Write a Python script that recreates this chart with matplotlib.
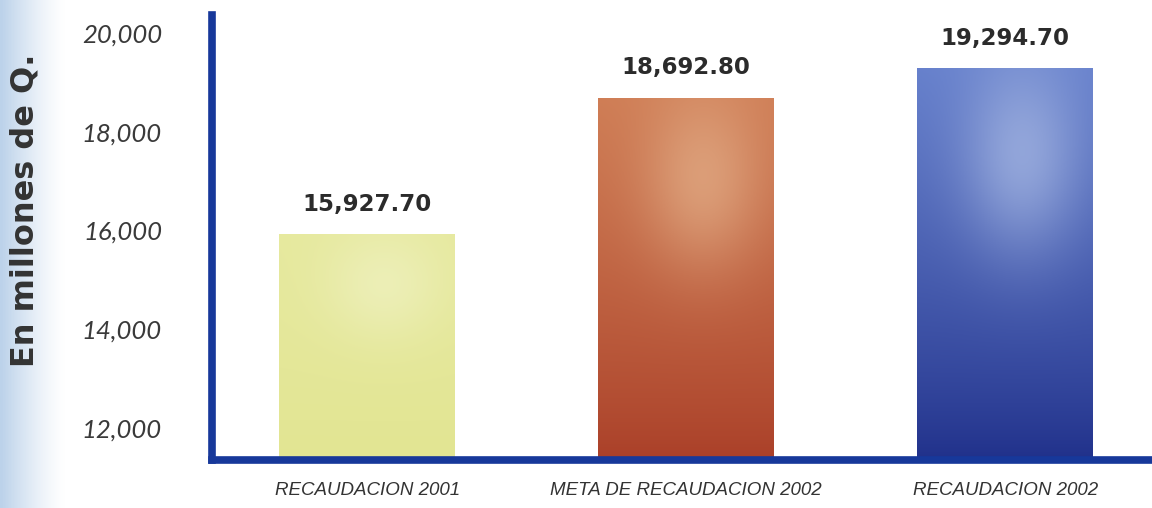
import numpy as np
import matplotlib
matplotlib.use('Agg')
from matplotlib import pyplot as plt
from matplotlib import colors

categories = ['RECAUDACION 2001', 'META DE RECAUDACION 2002', 'RECAUDACION 2002']
values = [15927.70, 18692.80, 19294.70]
value_labels = ['15,927.70', '18,692.80', '19,294.70']
yticks = [12000, 14000, 16000, 18000, 20000]
ytick_labels = ['12,000', '14,000', '16,000', '18,000', '20,000']

# bottom colour, top colour, highlight colour per bar
bar_shades = [
    ('#e2e592', '#e6e99e', '#eef0bc'),
    ('#aa3f28', '#cf7d55', '#e0a882'),
    ('#20308a', '#6680cc', '#a0b2e0'),
]
axis_blue = '#17389a'

ymin, ymax = 11350, 20365

fig = plt.figure(figsize=(11.52, 5.08), dpi=100)

# pale blue haze down the left edge
bg = fig.add_axes([0, 0, 1, 1], zorder=-5)
bg.axis('off')
xs = np.linspace(0, 1, 400)
fade = np.clip(1 - xs / 0.055, 0, 1) ** 1.3
haze = np.ones((1, 400, 3))
edge = np.array(colors.to_rgb('#bcd2ea'))
haze[0] = 1 - fade[:, None] * (1 - edge)
bg.imshow(haze, extent=[0, 1, 0, 1], aspect='auto')
bg.set_xlim(0, 1)
bg.set_ylim(0, 1)

ax = fig.add_axes([212 / 1152, 48 / 508, 1 - 212 / 1152, (508 - 48 - 15) / 508])
ax.patch.set_alpha(0)

x = np.arange(len(categories))
bars = ax.bar(x, [v - ymin for v in values], bottom=ymin, width=0.55,
              color='none', edgecolor='none', zorder=2)

# fill each bar with a vertical gradient and a soft highlight
ny, nx = 200, 60
gy, gx = np.mgrid[0:1:ny * 1j, 0:1:nx * 1j]
for rect, (c_bot, c_top, c_hi) in zip(bars, bar_shades):
    bot = np.array(colors.to_rgb(c_bot))
    top = np.array(colors.to_rgb(c_top))
    hi = np.array(colors.to_rgb(c_hi))
    t = (gy ** 0.8)[..., None]
    img = bot * (1 - t) + top * t
    glow = np.exp(-(((gx - 0.6) / 0.35) ** 2 + ((gy - 0.78) / 0.25) ** 2))[..., None]
    img = img * (1 - 0.8 * glow) + hi * 0.8 * glow
    x0, y0 = rect.get_x(), rect.get_y()
    im = ax.imshow(img, origin='lower', aspect='auto', zorder=2,
                   extent=[x0, x0 + rect.get_width(), y0, y0 + rect.get_height()])
    im.set_clip_path(rect)

for xi, v, lab in zip(x, values, value_labels):
    ax.annotate(lab, (xi, v), xytext=(0, 13), textcoords='offset points',
                ha='center', va='bottom', fontsize=16.5, fontweight='bold',
                color='#2b2b2b', family='DejaVu Sans')

ax.set_xlim(-0.486, 2.46)
ax.set_ylim(ymin, ymax)

for side in ['top', 'right']:
    ax.spines[side].set_visible(False)
for side in ['left', 'bottom']:
    ax.spines[side].set_color(axis_blue)
    ax.spines[side].set_linewidth(5.5)
    ax.spines[side].set_capstyle('projecting')
    ax.spines[side].set_zorder(3)

ax.set_yticks(yticks)
ax.set_yticklabels(ytick_labels, fontsize=18.5, fontstyle='italic',
                   color='#3a3a3a', family='Lato')
ax.tick_params(axis='y', length=0, pad=36)

ax.set_xticks(x)
ax.set_xticklabels(categories, fontsize=13.5, fontstyle='italic',
                   color='#333333', family='Liberation Sans')
ax.tick_params(axis='x', length=0, pad=16)

fig.text(25 / 1152, 1 - 210 / 508, 'En millones de Q.', rotation=90,
         ha='center', va='center', fontsize=23, fontweight='bold',
         color='#333333', family='DejaVu Sans')

fig.savefig('out.png', dpi=100)
